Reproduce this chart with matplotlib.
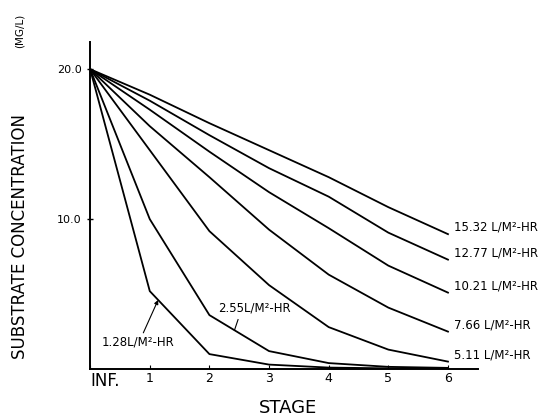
import numpy as np
from matplotlib import pyplot as plt

stages = [0, 1, 2, 3, 4, 5, 6]
stage_labels = ['INF.', '1', '2', '3', '4', '5', '6']

# substrate concentration (mg/L) per stage, one list per loading rate
conc_128 = [20.0, 5.2, 1.0, 0.3, 0.1, 0.05, 0.03]
conc_255 = [20.0, 10.0, 3.6, 1.2, 0.4, 0.15, 0.08]
conc_511 = [20.0, 14.6, 9.2, 5.6, 2.8, 1.3, 0.5]
conc_766 = [20.0, 16.2, 12.8, 9.3, 6.3, 4.1, 2.5]
conc_1021 = [20.0, 17.3, 14.5, 11.8, 9.4, 6.9, 5.1]
conc_1277 = [20.0, 17.9, 15.6, 13.4, 11.5, 9.1, 7.3]
conc_1532 = [20.0, 18.3, 16.4, 14.6, 12.8, 10.8, 9.0]

right_labels = ['15.32 L/M²-HR', '12.77 L/M²-HR', '10.21 L/M²-HR',
                '7.66 L/M²-HR', '5.11 L/M²-HR']
right_series = [conc_1532, conc_1277, conc_1021, conc_766, conc_511]

fig = plt.figure(figsize=(5.53, 4.18), dpi=100)
ax = fig.add_axes([0.163, 0.117, 0.701, 0.782])

for series in [conc_128, conc_255] + right_series:
    ax.plot(stages, series, color='black', linewidth=1.3)

for lab, series in zip(right_labels, right_series):
    ax.text(6.1, series[-1] + 0.45, lab, fontsize=8.5, va='center', ha='left')

# pointer labels for the two steep curves
ax.annotate('1.28L/M²-HR', xy=(1.14, np.interp(1.14, stages, conc_128)),
            xytext=(0.2, 1.8), fontsize=8.5, va='center',
            arrowprops=dict(arrowstyle='-|>', color='black', lw=0.8,
                            mutation_scale=6, shrinkA=0, shrinkB=0,
                            relpos=(0.55, 1.0)))
ax.text(2.15, 4.1, '2.55L/M²-HR', fontsize=8.5, va='center')
ax.plot([2.48, 2.42], [3.3, np.interp(2.42, stages, conc_255)],
        color='black', linewidth=0.8)

ax.set_xlim(0, 6.5)
ax.set_ylim(0, 21.8)
ax.set_xticks(stages)
ax.set_xticklabels(stage_labels, fontsize=9)
inf_lab = ax.get_xticklabels()[0]
inf_lab.set_fontsize(12)
inf_lab.set_horizontalalignment('left')
ax.set_yticks([10, 20])
ax.set_yticklabels(['10.0', '20.0'], fontsize=8)
ax.tick_params(axis='y', direction='inout', length=5, width=1)
ax.tick_params(axis='x', direction='in', length=3, width=0.8, pad=2)

for side in ['top', 'right']:
    ax.spines[side].set_visible(False)
for side in ['left', 'bottom']:
    ax.spines[side].set_linewidth(1.4)

fig.text(0.52, 0.025, 'STAGE', fontsize=13, ha='center', va='center')
fig.text(0.036, 0.435, 'SUBSTRATE CONCENTRATION', rotation=90,
         fontsize=12, ha='center', va='center')
fig.text(0.036, 0.925, '(MG/L)', rotation=90, fontsize=7.5,
         ha='center', va='center')

plt.savefig('out.png', dpi=100)
